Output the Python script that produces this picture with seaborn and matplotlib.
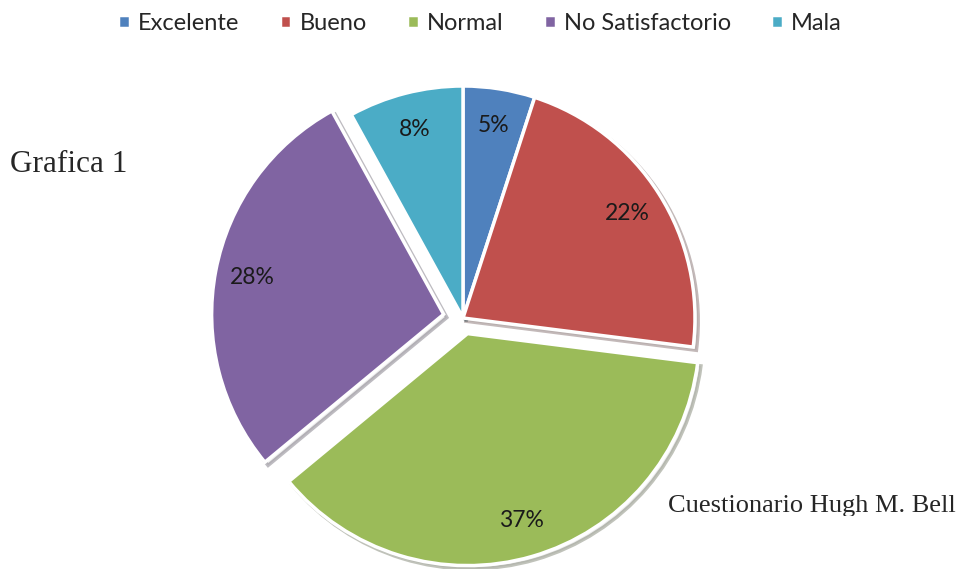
import matplotlib.pyplot as plt
from matplotlib.transforms import Bbox
import seaborn as sns

# datos de la grafica
categorias = ["Excelente", "Bueno", "Normal", "No Satisfactorio", "Mala"]
porcentajes = [5, 22, 37, 28, 8]
colores = ["#4F81BD", "#C0504D", "#9BBB59", "#8064A2", "#4BACC6"]
separacion = [0, 0, 0.07, 0.085, 0]

sns.set_style("white")
plt.rcParams['font.family'] = ['Lato', 'DejaVu Sans']

fig = plt.figure(figsize=(9.6, 5.69), dpi=100)
ax = fig.add_axes([0, 0, 1, 1])

wedges, texts, autotexts = ax.pie(
    porcentajes, colors=colores, startangle=90, counterclock=False,
    explode=separacion, autopct='%1.0f%%', pctdistance=0.84,
    wedgeprops={'edgecolor': 'white', 'linewidth': 2.5},
    shadow={'ox': 0.01, 'oy': -0.01, 'facecolor': '0.8', 'alpha': 0.3},
    textprops={'fontsize': 16.5, 'color': '#1a1a1a'})

# escala: 232 px por unidad, centro en (463, 318) desde arriba
r = 232
ax.set_xlim(-463 / r, (960 - 463) / r)
ax.set_ylim(-(569 - 318) / r, 318 / r)
ax.set_aspect('auto')
ax.axis('off')

ax.legend(wedges, categorias, loc='upper center', bbox_to_anchor=(0.5, 1.015),
          ncol=5, frameon=False, fontsize=17, handlelength=0.5,
          handleheight=0.5, handletextpad=0.35, columnspacing=1.7)

fig.text(10 / 960, 1 - 165 / 569, "Grafica 1", family='Liberation Serif',
         fontsize=22.5, va='center', ha='left')
pie_txt = fig.text(668 / 960, 1 - 512 / 569, "Cuestionario Hugh M. Bell",
                   family='Liberation Serif', fontsize=19, va='baseline',
                   ha='left')
# texto recortado en la parte inferior como en la imagen original
pie_txt.set_clip_box(Bbox.from_extents(600, 569 - 516, 960, 569 - 470))
pie_txt.set_clip_on(True)

fig.savefig("out.png", dpi=100)
